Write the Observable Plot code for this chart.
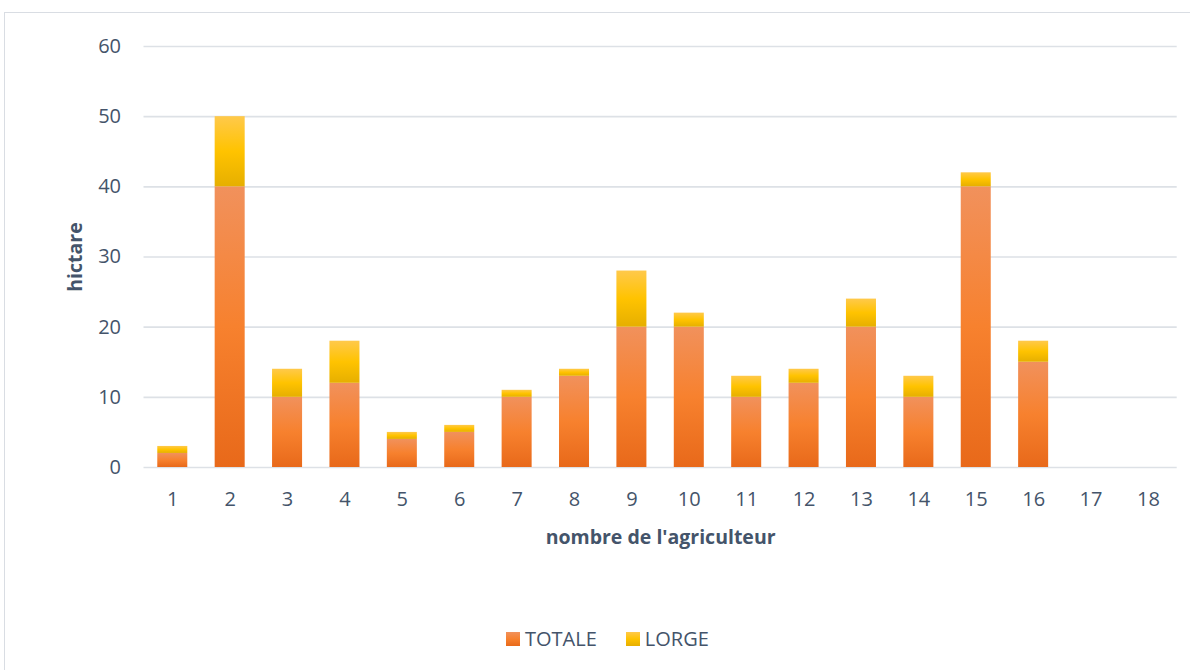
<!DOCTYPE html>
<html>
<head>
<meta charset="utf-8">
<script src="https://cdn.jsdelivr.net/npm/d3@7"></script>
<script src="https://cdn.jsdelivr.net/npm/@observablehq/plot@0.6"></script>
<style>
  html, body { margin: 0; padding: 0; background: #fff; }
  body { width: 1190px; height: 670px; position: relative; overflow: hidden; font-family: "Open Sans", sans-serif; }
  #frame { position: absolute; left: 4px; top: 12px; width: 1210px; height: 700px; border: 1px solid #D9DDE3; box-sizing: border-box; }
  #chart { position: absolute; left: 0; top: 0; }
  #legend { position: absolute; left: 506px; top: 629px; height: 20px; display: flex; align-items: center; color: #44546A; font-size: 20px; line-height: 20px; }
  #legend .item { display: flex; align-items: center; margin-right: 29px; }
  #legend .sw { width: 14px; height: 14px; margin-right: 5px; }
</style>
</head>
<body>
<svg width="0" height="0" style="position:absolute">
  <defs>
    <linearGradient id="gradTotale" x1="0" y1="0" x2="0" y2="1">
      <stop offset="0" stop-color="#F1915C"/>
      <stop offset="0.5" stop-color="#F7812E"/>
      <stop offset="1" stop-color="#E8691A"/>
    </linearGradient>
    <linearGradient id="gradLorge" x1="0" y1="0" x2="0" y2="1">
      <stop offset="0" stop-color="#FFC94B"/>
      <stop offset="0.5" stop-color="#FFC300"/>
      <stop offset="1" stop-color="#E6AF00"/>
    </linearGradient>
  </defs>
</svg>
<div id="frame"></div>
<div id="chart"></div>
<div id="legend"></div>
<script>
// Surface (hectares) per farmer, split into the two stacked series
const agriculteurs = [1, 2, 3, 4, 5, 6, 7, 8, 9, 10, 11, 12, 13, 14, 15, 16, 17, 18];
const totale = [2, 40, 10, 12, 4, 5, 10, 13, 20, 20, 10, 12, 20, 10, 40, 15, 0, 0];
const lorge  = [1, 10, 4, 6, 1, 1, 1, 1, 8, 2, 3, 2, 4, 3, 2, 3, 0, 0];
const series = ["TOTALE", "LORGE"];
const seriesFill = ["url(#gradTotale)", "url(#gradLorge)"];
const yTicks = [0, 10, 20, 30, 40, 50, 60];

const data = agriculteurs.flatMap((a, i) => [
  {agriculteur: a, serie: "TOTALE", valeur: totale[i]},
  {agriculteur: a, serie: "LORGE", valeur: lorge[i]}
]);

const textColor = "#44546A";

const chart = Plot.plot({
  width: 1190,
  height: 600,
  marginTop: 46,
  marginBottom: 133,
  marginLeft: 143.5,
  marginRight: 13.3,
  style: {fontFamily: "Open Sans", fontSize: "20px", color: textColor, background: "transparent"},
  x: {type: "band", domain: agriculteurs, paddingInner: 0.477, paddingOuter: 0.24, round: false, label: null},
  y: {domain: [0, 60], label: null},
  color: {domain: series, range: seriesFill},
  marks: [
    Plot.gridY(yTicks, {stroke: "#DDE1E6", strokeOpacity: 1, strokeWidth: 1.6}),
    Plot.barY(data, {x: "agriculteur", y: "valeur", fill: "serie"}),
    Plot.axisX({tickSize: 0, tickPadding: 24, fontSize: 20, fill: textColor, label: null}),
    Plot.axisY({ticks: yTicks, tickSize: 0, tickPadding: 23, fontSize: 20, fill: textColor, label: null}),
    Plot.text(["hictare"], {frameAnchor: "left", textAnchor: "middle", lineAnchor: "middle", dx: -68.5, rotate: -90, fontWeight: "bold", fontSize: 19.5, fill: textColor}),
    Plot.text(["nombre de l'agriculteur"], {frameAnchor: "bottom", textAnchor: "middle", lineAnchor: "middle", dy: 70, fontWeight: "bold", fontSize: 19.5, fill: textColor})
  ]
});
document.getElementById("chart").appendChild(chart);

// Legend below the plot
const legend = d3.select("#legend");
series.forEach((s, i) => {
  const item = legend.append("div").attr("class", "item");
  item.append("svg").attr("class", "sw").attr("width", 14).attr("height", 14)
    .append("rect").attr("width", 14).attr("height", 14).attr("fill", seriesFill[i]);
  item.append("span").text(s);
});
</script>
</body>
</html>
